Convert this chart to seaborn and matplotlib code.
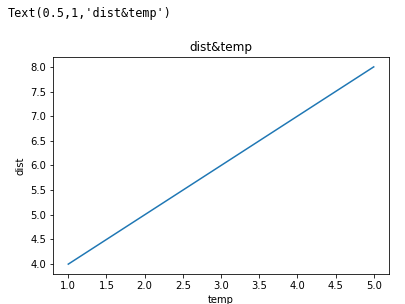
import matplotlib
matplotlib.use("Agg")
import matplotlib.pyplot as plt
import seaborn as sns
import pandas as pd

temp = [1, 2, 3, 4, 5]
dist = [4, 5, 6, 7, 8]
title = "dist&temp"
repr_text = "Text(0.5,1,'dist&temp')"

plt.rcParams.update(plt.rcParamsDefault)
plt.rcParams['font.family'] = ['DejaVu Sans']
s = 0.72  # 72-dpi original rendered at 100 dpi

df = pd.DataFrame({"temp": temp, "dist": dist})

fig = plt.figure(figsize=(4.06, 3.04), dpi=100)
W, H = 406, 304
ax = fig.add_axes([53 / W, (H - 274) / H, 336 / W, 217 / H])
sns.lineplot(data=df, x="temp", y="dist", ax=ax, color="#1f77b4", linewidth=1.5 * s)

ax.set_title(title, fontsize=12 * s, pad=6 * s)
ax.set_xlabel("temp", fontsize=10 * s, labelpad=4 * s)
ax.set_ylabel("dist", fontsize=10 * s, labelpad=4 * s)
ax.set_xticks([1.0, 1.5, 2.0, 2.5, 3.0, 3.5, 4.0, 4.5, 5.0])
ax.set_yticks([4.0, 4.5, 5.0, 5.5, 6.0, 6.5, 7.0, 7.5, 8.0])
ax.tick_params(labelsize=10 * s, length=3.5 * s, width=0.8 * s, pad=3.5 * s)
for sp in ax.spines.values():
    sp.set_linewidth(0.8 * s)

fig.text(8 / W, 1 - 13 / H, repr_text, fontsize=8.5, family="DejaVu Sans Mono",
         va="center", ha="left")

fig.savefig("out.png", dpi=100)
